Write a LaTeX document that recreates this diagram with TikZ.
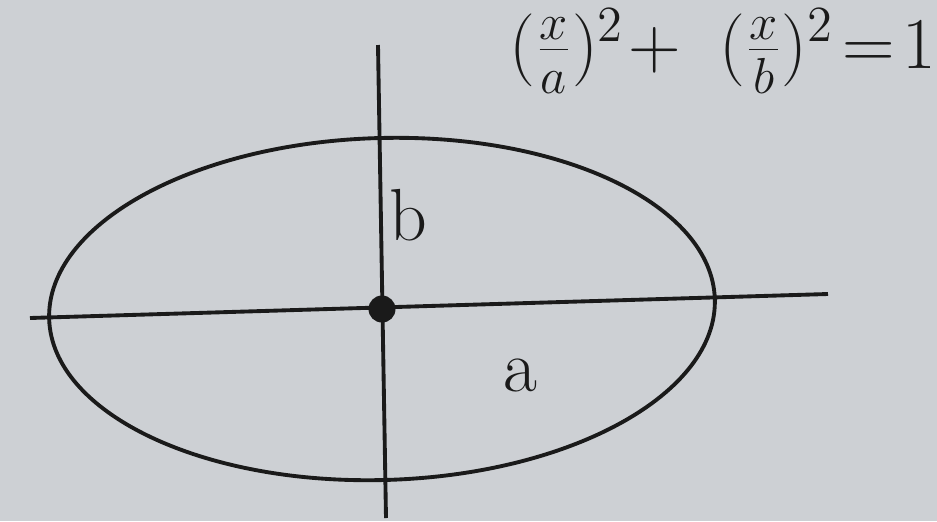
\documentclass[tikz,border=0pt]{standalone}
\usepackage{tikz}
\usetikzlibrary{positioning,calc}
\definecolor{PaperGray}{HTML}{CDD0D4}
\definecolor{InkBlack}{HTML}{1A1A1A}

\begin{document}
\begin{tikzpicture}[
  ink/.style={draw=InkBlack, line width=1.1pt},
  label/.style={font=\fontsize{21}{24}\selectfont, text=InkBlack, inner sep=0pt},
  dot/.style={circle, fill=InkBlack, inner sep=0pt, minimum size=0.27cm}
]
  % paper
  \fill[PaperGray] (0,0) rectangle (9.37,5.21);
  \useasboundingbox (0,0) rectangle (9.37,5.21);

  % ellipse
  \node[dot] (O) at (3.82, 2.12) {};
  \draw[ink, rotate around={1.7:(O)}] (O) ellipse [x radius=3.33, y radius=1.71];

  % axes
  \coordinate (xl) at (0.30, 2.03);
  \coordinate (xr) at (8.28, 2.27);
  \coordinate (yt) at (3.78, 4.76);
  \coordinate (yb) at (3.86, 0.03);
  \draw[ink] (xl) -- (xr);
  \draw[ink] (yt) -- (yb);

  % labels
  \node[label] (lb) at (4.08, 3.06) {b};
  \node[label] (la) at (5.20, 1.46) {a};
  \node[label, anchor=base east] (eq) at (9.37, 4.53)
    {$(\frac{x}{a})^{2}\!+\ (\frac{x}{b})^{2}\!=\!1$};
\end{tikzpicture}
\end{document}
